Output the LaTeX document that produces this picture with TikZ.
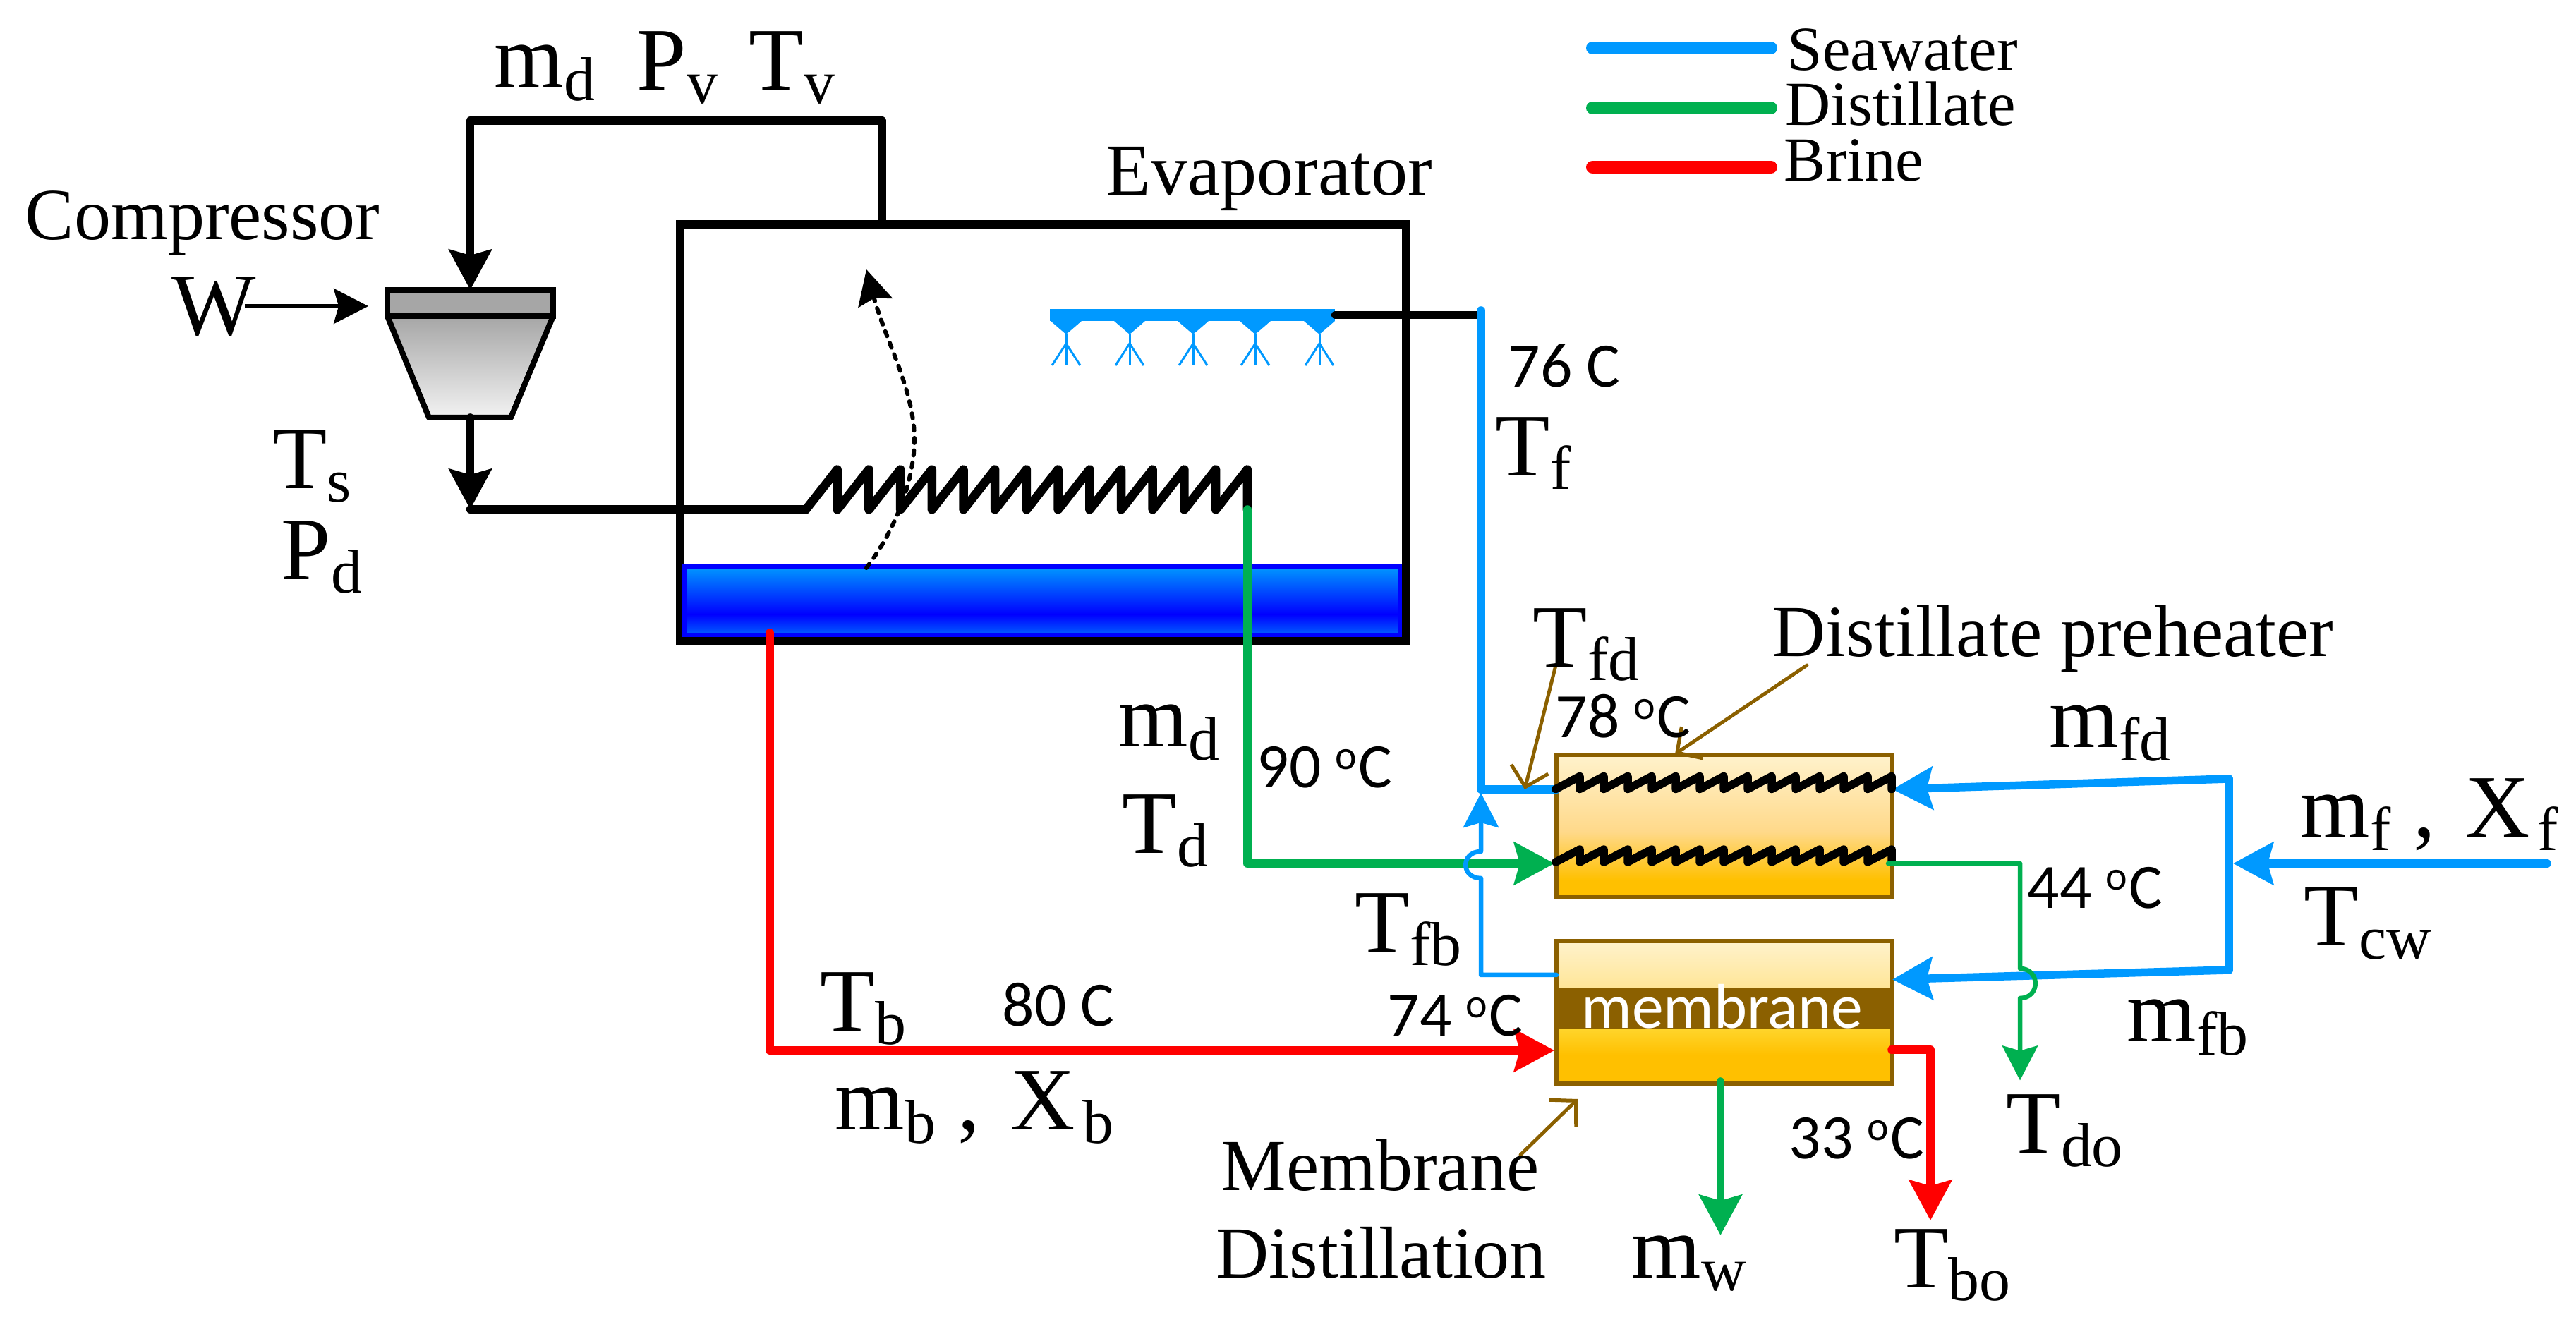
\documentclass[tikz,border=0pt]{standalone}
\usepackage{fontspec}
\setmainfont{Liberation Serif}
\newfontfamily\calibrifont{Carlito}
\usetikzlibrary{arrows.meta}

\definecolor{seablue}{HTML}{0099FF}
\definecolor{distgreen}{HTML}{00B050}
\definecolor{brinered}{HTML}{FF0000}
\definecolor{hexbrown}{HTML}{8B6000}
\definecolor{amberdeep}{HTML}{FFC000}
\definecolor{ambermid}{HTML}{FFD98A}
\definecolor{amberpale}{HTML}{FFF2CC}
\definecolor{amberlight}{HTML}{FFE699}
\definecolor{amberlow}{HTML}{FFD42A}
\definecolor{waterlow}{HTML}{0060FF}

\pgfdeclareverticalshading{preheatshade}{100bp}{color(0bp)=(amberdeep); color(31bp)=(amberdeep); color(48bp)=(ambermid); color(75bp)=(amberpale); color(100bp)=(amberpale)}
\pgfdeclareverticalshading{memshade}{100bp}{color(0bp)=(amberdeep); color(35bp)=(amberdeep); color(44bp)=(amberlow); color(59bp)=(amberlight); color(75bp)=(amberpale); color(100bp)=(amberpale)}
\pgfdeclareverticalshading{watershade}{100bp}{color(0bp)=(waterlow); color(25bp)=(waterlow); color(40bp)=(blue); color(75bp)=(seablue); color(100bp)=(seablue)}

\newcommand{\subs}[1]{\raisebox{-5.4pt}{\fontsize{25}{25}\selectfont #1}}
\newcommand{\degC}{\raisebox{.3em}{\fontsize{16.5}{16.5}\selectfont o}\kern.5pt C}

\tikzset{
  bigtext/.style={font=\fontsize{36}{40}\selectfont, anchor=base west, inner sep=0pt},
  midtext/.style={font=\fontsize{29.6}{34}\selectfont, anchor=base west, inner sep=0pt},
  legtext/.style={font=\fontsize{25.3}{29}\selectfont, anchor=base west, inner sep=0pt},
  degtext/.style={font=\calibrifont\fontsize{25.5}{29}\selectfont, anchor=base west, inner sep=0pt},
  box/.style={draw, inner sep=0pt, outer sep=0pt},
  pipe/.style={line width=1.15mm, line cap=round, line join=round},
  thinpipe/.style={line width=.65mm, line cap=round, line join=round},
  headbig/.style={-{Stealth[length=5.7mm,width=6mm,inset=.8mm]}},
  headmid/.style={-{Stealth[length=4.9mm,width=5mm,inset=.7mm]}},
  leader/.style={hexbrown, line width=.5mm, line cap=round, -{Straight Barb[length=2.6mm,width=5.4mm]}},
  coilline/.style={line width=1.15mm, line cap=round, line join=round},
}

\begin{document}
\begin{tikzpicture}
  \useasboundingbox (0,0) rectangle (36.51,18.73);

  % evaporator
  \node[box, line width=1.15mm, minimum width=10.29cm, minimum height=5.91cm] (evap) at (14.785,12.595) {};
  \node[box, draw=blue, line width=.6mm, shading=watershade, minimum width=10.14cm, minimum height=.97cm] (water) at (14.77,10.215) {};

  % vapour rising
  \draw[line width=.6mm, line cap=round, dash pattern=on .7mm off 1.05mm, headmid] (12.28,10.68) .. controls (12.75,11.3) and (12.96,12.0) .. (12.96,12.5) .. controls (12.96,13.2) and (12.55,13.9) .. (12.28,14.91);

  % compressor
  \node[box, fill=black!35, line width=.8mm, minimum width=2.35cm, minimum height=.37cm] (comptop) at (6.665,14.435) {};
  \draw[line width=.8mm, line join=round, top color=black!35, bottom color=black!5] (5.49,14.25) -- (7.84,14.25) -- (7.24,12.81) -- (6.08,12.81) -- cycle;
  \coordinate (vapout) at (12.50,15.55);
  \coordinate (vapbend) at (6.665,17.02);
  \coordinate (compout) at (6.665,12.81);
  \coordinate (compbend) at (6.665,11.51);
  \coordinate (coilin) at (11.42,11.51);
  \coordinate (wtail) at (3.47,14.39);
  \coordinate (wtip) at (5.22,14.39);
  \draw[pipe, headbig] (vapout) |- (vapbend) -- (comptop.north);
  \draw[pipe, headbig] (compout) -- (compbend);
  \draw[pipe] (compbend) -- (coilin);
  \draw[line width=.5mm, headmid] (wtail) -- (wtip);

  % coil in evaporator
  \draw[pipe, line width=1.25mm] (11.42,11.505) \foreach \i in {1,...,14} { -- ++(.447,.57) -- ++(0,-.57) };
  \coordinate (coilend) at (17.68,11.51);

  % spray header
  \node[fill=seablue, inner sep=0pt, minimum width=4.04cm, minimum height=.17cm] (spray) at (16.90,14.265) {};
  \foreach \x in {15.11,16.01,16.91,17.79,18.70} {
    \fill[seablue] (\x-.22,14.18) -- (\x+.22,14.18) -- (\x,13.99) -- cycle;
    \draw[seablue, line width=.3mm] (\x,13.99) -- (\x,13.55);
    \draw[seablue, line width=.3mm] (\x-.2,13.55) -- (\x,13.86) -- (\x+.2,13.55);
  }
  \coordinate (seatop) at (20.99,14.33);
  \draw[pipe] (spray.east) -- (seatop |- spray.east);

  % preheater and membrane
  \node[box, draw=hexbrown, line width=.6mm, shading=preheatshade, minimum width=4.76cm, minimum height=2.015cm] (preheat) at (24.44,7.02) {};
  \node[box, draw=hexbrown, line width=.6mm, shading=memshade, minimum width=4.76cm, minimum height=2.02cm] (memb) at (24.44,4.38) {};
  \node[fill=hexbrown, inner sep=0pt, minimum width=4.76cm, minimum height=.59cm] (band) at (24.44,4.435) {};
  \node[font=\calibrifont\fontsize{25.5}{30}\selectfont, text=white, anchor=base, inner sep=0pt] (bandtext) at (24.41,4.15) {membrane};

  % distillate
  \coordinate (distbend) at (17.68,6.49);
  \coordinate (distin) at (22.03,6.49);
  \draw[pipe, distgreen, headbig] (coilend) -- (distbend) -- (distin);
  \coordinate (distout) at (26.76,6.49);
  \coordinate (distdown) at (28.63,6.49);
  \coordinate (hopin) at (28.63,5.00);
  \coordinate (hopout) at (28.63,4.58);
  \coordinate (distend) at (28.63,3.415);

  % seawater
  \coordinate (seacorner) at (20.99,7.54);
  \coordinate (seain) at (22.06,7.54);
  \draw[pipe, seablue] (seatop) -- (seacorner) -- (seain);
  \coordinate (fbout) at (22.06,4.91);
  \coordinate (fbcorner) at (20.99,4.91);
  \coordinate (jumpin) at (20.99,6.28);
  \coordinate (jumpout) at (20.99,6.66);
  \coordinate (fbtip) at (20.99,7.49);
  \draw[thinpipe, seablue, headmid] (fbout) -- (fbcorner) -- (jumpin) .. controls (20.70,6.28) and (20.70,6.66) .. (jumpout) -- (fbtip);
  \coordinate (feedin) at (36.10,6.49);
  \coordinate (feedtip) at (31.65,6.49);
  \coordinate (splittop) at (31.59,7.69);
  \coordinate (splitbot) at (31.59,4.98);
  \coordinate (fdtip) at (26.82,7.54);
  \coordinate (fbtipr) at (26.82,4.845);
  \draw[pipe, seablue] (splittop) -- (splitbot);
  \draw[pipe, seablue, headbig] (feedin) -- (feedtip);
  \draw[pipe, seablue, headbig] (splittop) -- (fdtip);
  \draw[pipe, seablue, headbig] (splitbot) -- (fbtipr);

  % coils in preheater
  \foreach \y in {7.545,6.51} {
    \draw[coilline] (22.05,\y) \foreach \i in {1,...,14} { -- ++(.34,.18) -- ++(0,-.18) };
  }

  % distillate out
  \draw[thinpipe, distgreen, headmid] (distout) -- (distdown) -- (hopin) .. controls (28.92,5.00) and (28.92,4.58) .. (hopout) -- (distend);
  \coordinate (productin) at (24.385,3.40);
  \coordinate (producttip) at (24.385,1.22);
  \draw[pipe, distgreen, headbig] (productin) -- (producttip);

  % brine
  \coordinate (brinestart) at (10.91,9.76);
  \coordinate (brinebend) at (10.91,3.84);
  \coordinate (brinetip) at (22.03,3.84);
  \coordinate (brineout) at (26.81,3.85);
  \coordinate (brinedown) at (27.36,3.85);
  \coordinate (brineend) at (27.36,1.43);
  \draw[pipe, brinered, headbig] (brinestart) -- (brinebend) -- (brinetip);
  \draw[pipe, brinered, headbig] (brineout) -- (brinedown) -- (brineend);

  % leaders
  \coordinate (phtail) at (25.61,9.30);
  \coordinate (phtip) at (23.74,8.04);
  \coordinate (tfdtail) at (22.05,9.30);
  \coordinate (tfdtip) at (21.61,7.54);
  \coordinate (mdtail) at (21.55,2.36);
  \coordinate (mdtip) at (22.36,3.15);
  \draw[leader] (phtail) -- (phtip);
  \draw[leader] (tfdtail) -- (tfdtip);
  \draw[leader] (mdtail) -- (mdtip);

  % legend
  \foreach \col/\y in {seablue/18.05,distgreen/17.20,brinered/16.36} {
    \draw[\col, line width=1.8mm, line cap=round] (22.57,\y) -- (25.10,\y);
  }
  \node[legtext] (legsea) at (25.33,17.73) {Seawater};
  \node[legtext] (legdist) at (25.30,16.95) {Distillate};
  \node[legtext] (legbrine) at (25.28,16.16) {Brine};

  % labels
  \node[bigtext] (mdtop) at (7.00,17.49) {m\subs{d}};
  \node[bigtext] (pv) at (9.02,17.45) {P\subs{v}};
  \node[bigtext] (tv) at (10.61,17.45) {T\subs{v}};
  \node[midtext] (comp) at (0.35,15.33) {Compressor};
  \node[bigtext] (w) at (2.43,13.97) {W};
  \node[bigtext] (ts) at (3.86,11.80) {T\subs{s}};
  \node[bigtext] (pd) at (3.98,10.51) {P\subs{d}};
  \node[midtext] (evaplabel) at (15.67,15.96) {Evaporator};
  \node[bigtext] (tf) at (21.19,11.98) {T\subs{f}};
  \node[bigtext] (tfd) at (21.72,9.27) {T\subs{fd}};
  \node[midtext] (phlabel) at (25.12,9.42) {Distillate preheater};
  \node[bigtext] (md) at (15.85,8.14) {m\subs{d}};
  \node[bigtext] (td) at (15.90,6.63) {T\subs{d}};
  \node[bigtext] (tfb) at (19.20,5.23) {T\subs{fb}};
  \node[bigtext] (tb) at (11.62,4.11) {T\subs{b}};
  \node[bigtext] (mb) at (11.83,2.71) {m\subs{b} , \kern3.3pt X\kern3pt\subs{b}};
  \node[midtext] (mdone) at (17.30,1.85) {Membrane};
  \node[midtext] (mdtwo) at (17.23,0.62) {Distillation};
  \node[bigtext] (mw) at (23.12,0.62) {m\subs{w}};
  \node[bigtext] (tbo) at (26.835,0.48) {T\subs{bo}};
  \node[bigtext] (tdo) at (28.43,2.385) {T\subs{do}};
  \node[bigtext] (mfd) at (29.04,8.13) {m\subs{fd}};
  \node[bigtext] (mf) at (32.60,6.86) {m\subs{f} , \kern3.3pt X\kern3pt\subs{f}};
  \node[bigtext] (tcw) at (32.65,5.32) {T\subs{cw}};
  \node[bigtext] (mfb) at (30.14,3.96) {m\subs{fb}};

  % temperatures
  \node[degtext] (t76) at (21.37,13.24) {76 C};
  \node[degtext] (t78) at (22.04,8.27) {78 \degC};
  \node[degtext] (t90) at (17.81,7.56) {90 \degC};
  \node[degtext] (t80) at (14.20,4.18) {80 C};
  \node[degtext] (t74) at (19.66,4.04) {74 \degC};
  \node[degtext] (t33) at (25.35,2.30) {33 \degC};
  \node[degtext] (t44) at (28.73,5.85) {44 \degC};
\end{tikzpicture}
\end{document}
